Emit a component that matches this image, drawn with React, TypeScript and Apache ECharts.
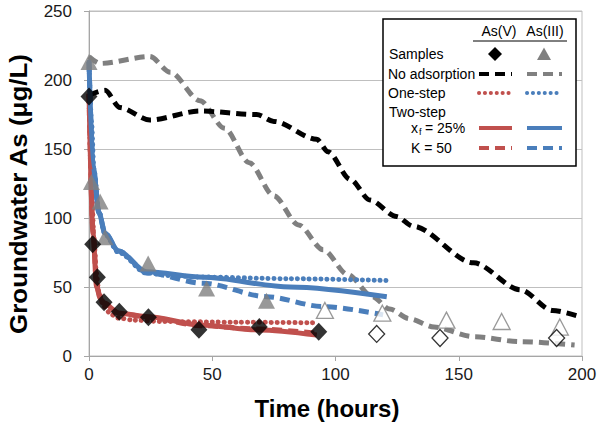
import React, { useEffect, useRef } from "react";
import * as echarts from "echarts";

// ---- data (hours, µg/L) ----
const asVSamples = [[0, 188], [1.5, 81], [3.4, 57], [6.1, 39], [12.3, 32], [24.1, 28], [44.6, 19], [69.1, 21], [93.2, 17.5]];
const asVSamplesOpen = [[116.7, 16], [142.4, 13], [189.7, 13]];
const asIIISamples = [[0, 213], [1, 126], [4.5, 112], [6.5, 86], [24, 67], [47.7, 49], [72, 40]];
const asIIISamplesOpen = [[95.7, 33], [119, 31], [145, 26], [167.4, 25], [191, 21]];

const noAdsV = [[0, 189], [6.5, 192.5], [12.6, 180], [24.7, 171], [45, 177.5], [68, 175], [75, 170], [92.4, 157], [97, 148], [106, 128], [114, 113], [124.8, 101], [131.5, 94], [156, 67.5], [175, 48], [188, 33], [200, 28]];
const noAdsIII = [[0, 217], [4.5, 212], [24.7, 217], [33, 205.6], [45, 185], [55, 165], [65, 140], [75, 116], [85, 95], [95, 77], [105, 59], [115, 43], [122, 34], [130, 27], [140, 21], [156, 14], [175, 10.4], [197, 8]];

const oneStepV = [[0, 188], [1, 125], [2, 85], [3, 60], [4, 46], [6, 36], [9, 30], [12, 27.5], [18, 26], [30, 25], [60, 24.5], [93, 24]];
const oneStepIII = [[0, 213], [1, 170], [2, 135], [4, 105], [6.5, 88], [12, 75], [23.4, 60], [35, 58], [46.4, 57.2], [81.5, 56], [120.8, 54.7]];

const twoStepV = [[0, 190], [1.6, 89], [3.1, 50], [4.5, 42], [6, 38], [12.3, 31], [24, 28.5], [45, 22.5], [69, 18.9], [92.4, 15.2]];
const twoStepIII = [[0, 213], [1.7, 137], [4, 104], [6.5, 89], [12, 76], [23.4, 61], [46.4, 57], [81.5, 50], [120.8, 43]];

const k50V = [[0, 190], [1.6, 92], [3.1, 51], [4.5, 43], [6, 38.5], [12.3, 31], [24, 28], [45, 22], [69, 19.5], [92.4, 16.5]];
const k50III = [[0, 213], [1.7, 137], [4, 104], [6.5, 89], [12, 76], [24, 60], [46.4, 52.7], [72, 43], [95, 35.8], [119.3, 29.8]];

const yTicks = [0, 50, 100, 150, 200, 250];
const xTicks = [0, 50, 100, 150, 200];

const RED = "#C0504D";
const BLUE = "#4A7EBB";
const GRAY = "#808080";
const FONT = "Liberation Sans, Arial, sans-serif";

const DASH = [10, 6];
const DOT = [0.1, 5.8];
const LW = 5;

function lineSeries(name: string, data: number[][], color: string, type: any, width = LW) {
  return {
    name,
    type: "line",
    data,
    showSymbol: false,
    symbol: "none",
    smooth: 0.3,
    smoothMonotone: "x",
    lineStyle: { color, width, type, cap: type === DOT ? "round" : "butt" },
    z: 2,
  };
}

export default function App() {
  const ref = useRef<HTMLDivElement>(null);
  useEffect(() => {
    const chart = echarts.init(ref.current!, undefined, { renderer: "svg" });
    const x1 = 479, x2 = 512, x3 = 527, x4 = 562;
    const Z = 110;
    const legPair = (y: number, c1: string, c2: string, dash: any) => [
      { type: "line", z: Z, shape: { x1, y1: y, x2, y2: y }, style: { stroke: c1, lineWidth: 4, lineDash: dash, lineCap: dash === DOT ? "round" : "butt" } },
      { type: "line", z: Z, shape: { x1: x3, y1: y, x2: x4, y2: y }, style: { stroke: c2, lineWidth: 4, lineDash: dash, lineCap: dash === DOT ? "round" : "butt" } },
    ];
    const txt = (x: number, y: number, text: string, size = 14, align = "left") => ({
      type: "text",
      z: Z,
      x,
      y,
      style: { text, font: `${size}px ${FONT}`, fill: "#000", textAlign: align, textVerticalAlign: "middle" },
    });
    const option: any = {
      animation: false,
      grid: { left: 89, right: 18, top: 11, bottom: 70, show: true, borderColor: "#BFBFBF", borderWidth: 1 },
      xAxis: {
        type: "value",
        min: 0,
        max: 200,
        interval: 50,
        axisLine: { show: true, lineStyle: { color: "#A6A6A6", width: 1 } },
        axisTick: { show: true, length: 5, lineStyle: { color: "#A6A6A6" } },
        axisLabel: { margin: 10, fontSize: 17, fontFamily: FONT, color: "#1a1a1a", formatter: (v: number) => (xTicks.includes(v) ? String(v) : "") },
        splitLine: { show: false },
      },
      yAxis: {
        type: "value",
        min: 0,
        max: 250,
        interval: 50,
        axisLine: { show: true, lineStyle: { color: "#A6A6A6", width: 1 } },
        axisTick: { show: true, length: 5, lineStyle: { color: "#A6A6A6" } },
        axisLabel: { margin: 17, fontSize: 17, fontFamily: FONT, color: "#1a1a1a", formatter: (v: number) => (yTicks.includes(v) ? String(v) : "") },
        splitLine: { show: true, lineStyle: { color: "#BFBFBF", width: 1 } },
      },
      series: [
        lineSeries("No adsorption As(III)", noAdsIII, GRAY, DASH),
        lineSeries("No adsorption As(V)", noAdsV, "#000", DASH),
        lineSeries("One-step As(V)", oneStepV, RED, DOT),
        lineSeries("One-step As(III)", oneStepIII, BLUE, DOT),
        lineSeries("K=50 As(V)", k50V, RED, DASH),
        lineSeries("K=50 As(III)", k50III, BLUE, DASH),
        lineSeries("xf=25% As(V)", twoStepV, RED, "solid"),
        lineSeries("xf=25% As(III)", twoStepIII, BLUE, "solid"),
        {
          name: "Samples As(III) open",
          type: "scatter",
          data: asIIISamplesOpen,
          symbol: "triangle",
          symbolSize: [17, 16],
          itemStyle: { color: "#fff", borderColor: GRAY, borderWidth: 1.3 },
          z: 5,
        },
        {
          name: "Samples As(V) open",
          type: "scatter",
          data: asVSamplesOpen,
          symbol: "diamond",
          symbolSize: [16, 17],
          itemStyle: { color: "#fff", borderColor: "#000", borderWidth: 1.3 },
          z: 5,
        },
        {
          name: "Samples As(III)",
          type: "scatter",
          data: asIIISamples,
          symbol: "triangle",
          symbolSize: [17, 16],
          itemStyle: { color: GRAY },
          z: 5,
        },
        {
          name: "Samples As(V)",
          type: "scatter",
          data: asVSamples,
          symbol: "diamond",
          symbolSize: [17, 18],
          itemStyle: { color: "#000" },
          z: 6,
        },
      ],
      graphic: [
        { type: "rect", z: 100, shape: { x: 383, y: 19, width: 193, height: 147 }, style: { fill: "#fff", stroke: "#000", lineWidth: 1.5 } },
        txt(499, 31, "As(V)", 14, "center"),
        txt(545, 31, "As(III)", 14, "center"),
        { type: "line", z: Z, shape: { x1: 473, y1: 41, x2: 567, y2: 41 }, style: { stroke: "#000", lineWidth: 1 } },
        txt(389, 54, "Samples"),
        { type: "polygon", z: Z, shape: { points: [[495, 47], [502, 54], [495, 61], [488, 54]] }, style: { fill: "#000" } },
        { type: "polygon", z: Z, shape: { points: [[544, 47.5], [551, 60], [537, 60]] }, style: { fill: GRAY } },
        txt(388, 74, "No adsorption"),
        ...legPair(74, "#000", GRAY, DASH),
        txt(388, 93, "One-step"),
        ...legPair(93, RED, BLUE, DOT),
        txt(389, 112, "Two-step"),
        txt(411, 128, "x"),
        txt(419, 132, "f", 9),
        txt(425, 128, "= 25%"),
        ...legPair(128, RED, BLUE, [] as any),
        txt(411, 148, "K = 50"),
        ...legPair(148, RED, BLUE, DASH),
        {
          type: "text",
          z: Z,
          x: 18,
          y: 194,
          rotation: Math.PI / 2,
          scaleX: 1.08,
          style: { text: "Groundwater As (μg/L)", font: `bold 24px ${FONT}`, fill: "#000", textAlign: "center", textVerticalAlign: "middle" },
        },
        {
          type: "text",
          z: Z,
          x: 327,
          y: 408,
          style: { text: "Time (hours)", font: `bold 24px ${FONT}`, fill: "#000", textAlign: "center", textVerticalAlign: "middle" },
        },
      ],
    };
    chart.setOption(option);
    return () => chart.dispose();
  }, []);
  return <div ref={ref} style={{ width: 600, height: 426, position: "absolute", left: 0, top: 0, background: "#fff" }} />;
}
